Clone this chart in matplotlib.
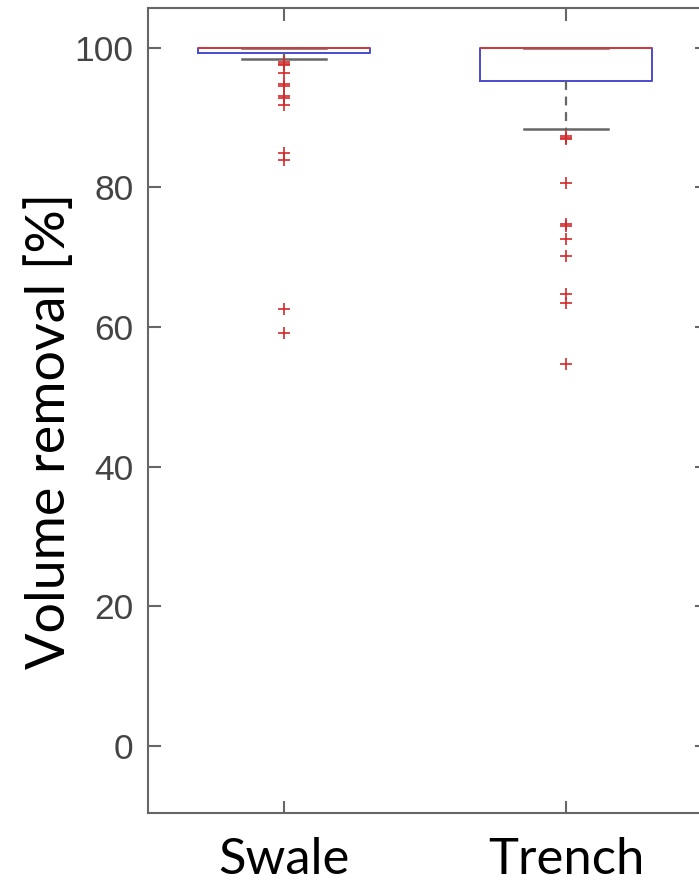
import numpy as np
import matplotlib.pyplot as plt

# Dane (MATLAB boxplot)
CATEGORIES = ['Swale', 'Trench']
Q1 = [99.3, 95.3]
MEDIAN = [100.0, 100.0]
Q3 = [100.0, 100.0]
WHISK_LO = [98.4, 88.4]
WHISK_HI = [100.0, 100.0]
FLIERS_SWALE = [97.9, 97.7, 97.6, 96.4, 94.8, 94.5, 93.1, 92.8, 91.8, 85.0, 84.0, 62.6, 59.2]
FLIERS_TRENCH = [87.3, 87.1, 87.0, 80.7, 74.8, 74.5, 72.6, 70.2, 64.8, 63.5, 54.7]
FLIERS = [FLIERS_SWALE, FLIERS_TRENCH]
Y_TICKS = [0, 20, 40, 60, 80, 100]

W, H = 699, 886
fig = plt.figure(figsize=(W / 100, H / 100), dpi=100)
ax = fig.add_axes([148 / W, (H - 813) / H, (707 - 148) / W, (813 - 8) / H])

stats = []
for i, name in enumerate(CATEGORIES):
    stats.append(dict(label=name, q1=Q1[i], med=MEDIAN[i], q3=Q3[i],
                      whislo=WHISK_LO[i], whishi=WHISK_HI[i], fliers=FLIERS[i]))

ax.bxp(stats, positions=[1, 2], widths=0.61, capwidths=0.30,
       showfliers=True,
       boxprops=dict(color='#4a4ad0', linewidth=1.4),
       medianprops=dict(color='#d43a3a', linewidth=1.4),
       whiskerprops=dict(color='#666666', linewidth=1.6, linestyle=(0, (4, 3))),
       capprops=dict(color='#666666', linewidth=1.8),
       flierprops=dict(marker='+', markeredgecolor='#d42a2a', markersize=8,
                       markeredgewidth=1.2, linestyle='none'))

ax.set_xlim(0.518, 2.5)
ax.set_ylim(-9.6, 105.7)
ax.set_yticks(Y_TICKS)
ax.set_xticks([1, 2])
ax.set_xticklabels(CATEGORIES)

for s in ax.spines.values():
    s.set_color('#666666')
    s.set_linewidth(1.5)

ax.tick_params(direction='in', length=9, width=1.5, color='#666666',
               top=True, right=True)
ax.tick_params(axis='y', pad=10.5, labelcolor='#444444', labelsize=25.5)
ax.tick_params(axis='x', pad=17, labelcolor='black', labelsize=36.5)
for lab in ax.get_yticklabels():
    lab.set_family(['Liberation Sans', 'DejaVu Sans'])
for lab in ax.get_xticklabels():
    lab.set_family(['Lato', 'DejaVu Sans'])

ax.set_ylabel('Volume removal [%]', fontsize=38.8, family=['Lato', 'DejaVu Sans'],
              color='black')
ax.yaxis.set_label_coords(-0.132, 0.4745)

plt.savefig('out.png', dpi=100)
